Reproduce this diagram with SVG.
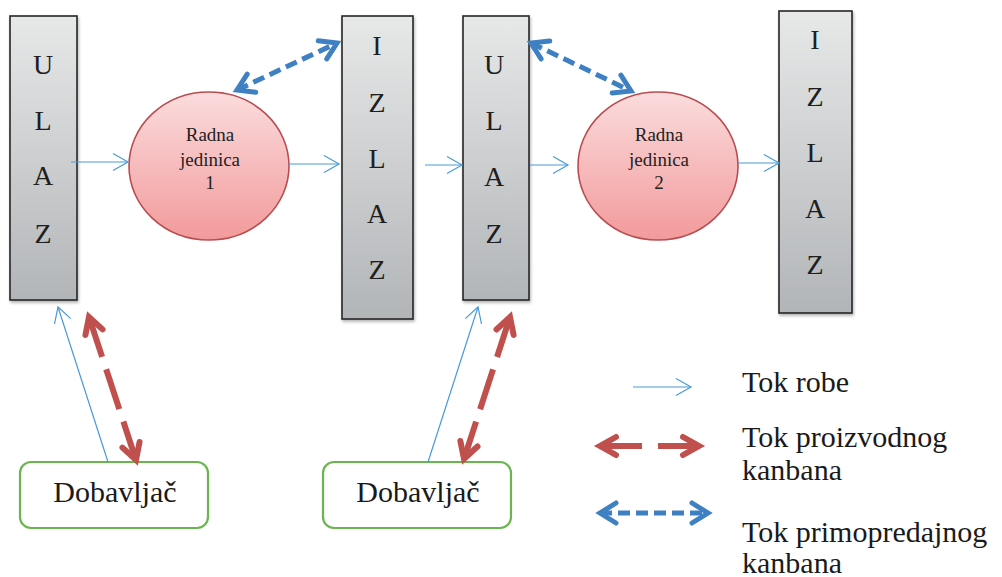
<svg xmlns="http://www.w3.org/2000/svg" width="1002" height="577" viewBox="0 0 1002 577">
<style>
.box{stroke:#262626;stroke-width:1.6;fill:url(#gGray);filter:url(#sh)}
.bl{font-family:"Liberation Serif","Times New Roman",serif;font-size:28px;fill:#1e1e1e;text-anchor:middle}
.circ{fill:url(#gPink);stroke:#b94c50;stroke-width:1.6}
.ct{font-family:"Liberation Serif","Times New Roman",serif;font-size:19px;fill:#222;text-anchor:middle}
.sup{fill:#fff;stroke:#6ab550;stroke-width:2.2}
.st{font-family:"Liberation Serif","Times New Roman",serif;font-size:30px;fill:#1a1a1a;text-anchor:middle}
.lg{font-family:"Liberation Serif","Times New Roman",serif;font-size:30px;fill:#1a1a1a}
.thin{fill:none;stroke:#4a9bd8;stroke-width:1.2;marker-end:url(#mThin)}
.red{fill:none;stroke:#c0504d;stroke-width:6;marker-start:url(#mRed);marker-end:url(#mRed)}
.blu{fill:none;stroke:#3e80c2;stroke-width:5;stroke-dasharray:12 6;marker-start:url(#mBlue);marker-end:url(#mBlue)}
</style>
<defs>
<linearGradient id="gGray" x1="0" y1="0" x2="0" y2="1">
<stop offset="0" stop-color="#e7e8e8"/>
<stop offset="1" stop-color="#b2b5b8"/>
</linearGradient>
<linearGradient id="gPink" x1="0" y1="0" x2="0" y2="1">
<stop offset="0" stop-color="#fbdcdd"/>
<stop offset="1" stop-color="#f29a9b"/>
</linearGradient>
<filter id="sh" x="-20%" y="-10%" width="140%" height="120%">
<feDropShadow dx="1" dy="2" stdDeviation="1.5" flood-color="#000" flood-opacity="0.3"/>
</filter>
<marker id="mThin" markerUnits="userSpaceOnUse" viewBox="-20 -12 24 24" refX="0" refY="0" markerWidth="24" markerHeight="24" orient="auto" overflow="visible">
<path d="M-15,-8.5 L0,0 L-15,8.5" fill="none" stroke="#4a9bd8" stroke-width="1.2"/>
</marker>
<marker id="mRed" markerUnits="userSpaceOnUse" viewBox="-24 -14 30 28" refX="0" refY="0" markerWidth="30" markerHeight="28" orient="auto-start-reverse" overflow="visible">
<path d="M-16,-9 L0,0 L-16,9" fill="none" stroke="#c0504d" stroke-width="6" stroke-linecap="round" stroke-dasharray="none"/>
</marker>
<marker id="mBlue" markerUnits="userSpaceOnUse" viewBox="-24 -14 30 28" refX="0" refY="0" markerWidth="30" markerHeight="28" orient="auto-start-reverse" overflow="visible">
<path d="M-16,-10 L0,0 L-16,10" fill="none" stroke="#3e80c2" stroke-width="5" stroke-linecap="round" stroke-dasharray="none"/>
</marker>
</defs>
<rect width="1002" height="577" fill="#fff"/>

<g id="ulaz1">
<rect class="box" x="10" y="16" width="67" height="284"/>
<text class="bl" x="43" y="74">U</text>
<text class="bl" x="43" y="130">L</text>
<text class="bl" x="43" y="185">A</text>
<text class="bl" x="43" y="243">Z</text>
</g>

<g id="radna1">
<ellipse class="circ" cx="209" cy="166" rx="80" ry="74"/>
<text class="ct" x="210" y="141">Radna</text>
<text class="ct" x="210" y="166">jedinica</text>
<text class="ct" x="210" y="189">1</text>
</g>

<g id="izlaz1">
<rect class="box" x="342" y="16" width="71" height="303"/>
<text class="bl" x="377" y="55">I</text>
<text class="bl" x="377" y="112">Z</text>
<text class="bl" x="377" y="168">L</text>
<text class="bl" x="377" y="223">A</text>
<text class="bl" x="377" y="279">Z</text>
</g>

<g id="ulaz2">
<rect class="box" x="463" y="16" width="66" height="284"/>
<text class="bl" x="494" y="74">U</text>
<text class="bl" x="494" y="130">L</text>
<text class="bl" x="494" y="186">A</text>
<text class="bl" x="494" y="243">Z</text>
</g>

<g id="radna2">
<ellipse class="circ" cx="658" cy="166" rx="80" ry="74"/>
<text class="ct" x="659" y="141">Radna</text>
<text class="ct" x="659" y="166">jedinica</text>
<text class="ct" x="659" y="189">2</text>
</g>

<g id="izlaz2">
<rect class="box" x="779" y="11" width="73" height="302"/>
<text class="bl" x="815" y="49">I</text>
<text class="bl" x="815" y="106">Z</text>
<text class="bl" x="815" y="162">L</text>
<text class="bl" x="815" y="218">A</text>
<text class="bl" x="815" y="274">Z</text>
</g>

<g id="dobavljac1">
<rect class="sup" x="20" y="462" width="188" height="66" rx="11"/>
<text class="st" x="115" y="502">Dobavljač</text>
</g>

<g id="dobavljac2">
<rect class="sup" x="323" y="462" width="188" height="66" rx="11"/>
<text class="st" x="418" y="502">Dobavljač</text>
</g>

<g id="connectors">
<line class="thin" x1="71" y1="162" x2="128" y2="162"/>
<line class="thin" x1="288" y1="164" x2="339" y2="164"/>
<line class="thin" x1="425" y1="165" x2="462" y2="165"/>
<line class="thin" x1="530" y1="165" x2="568" y2="165"/>
<line class="thin" x1="738" y1="163" x2="779" y2="163"/>
<line class="thin" x1="108" y1="462" x2="58" y2="307"/>
<line class="thin" x1="428" y1="462" x2="478" y2="307"/>
<line class="red" x1="89" y1="317" x2="136" y2="460" stroke-dasharray="42 13"/>
<line class="red" x1="510" y1="317" x2="464" y2="459" stroke-dasharray="42 13"/>
<line class="blu" x1="237" y1="90" x2="337" y2="43"/>
<line class="blu" x1="531" y1="43" x2="631" y2="91"/>
</g>

<g id="legend">
<line class="thin" x1="633" y1="387" x2="691" y2="387"/>
<text class="lg" x="742" y="392">Tok robe</text>
<line class="red" x1="600" y1="446" x2="699" y2="446" stroke-dasharray="42 16"/>
<text class="lg" x="742" y="447">Tok proizvodnog</text>
<text class="lg" x="742" y="480">kanbana</text>
<line class="blu" x1="600" y1="513" x2="708" y2="513"/>
<text class="lg" x="742" y="542">Tok primopredajnog</text>
<text class="lg" x="742" y="573">kanbana</text>
</g>
</svg>
